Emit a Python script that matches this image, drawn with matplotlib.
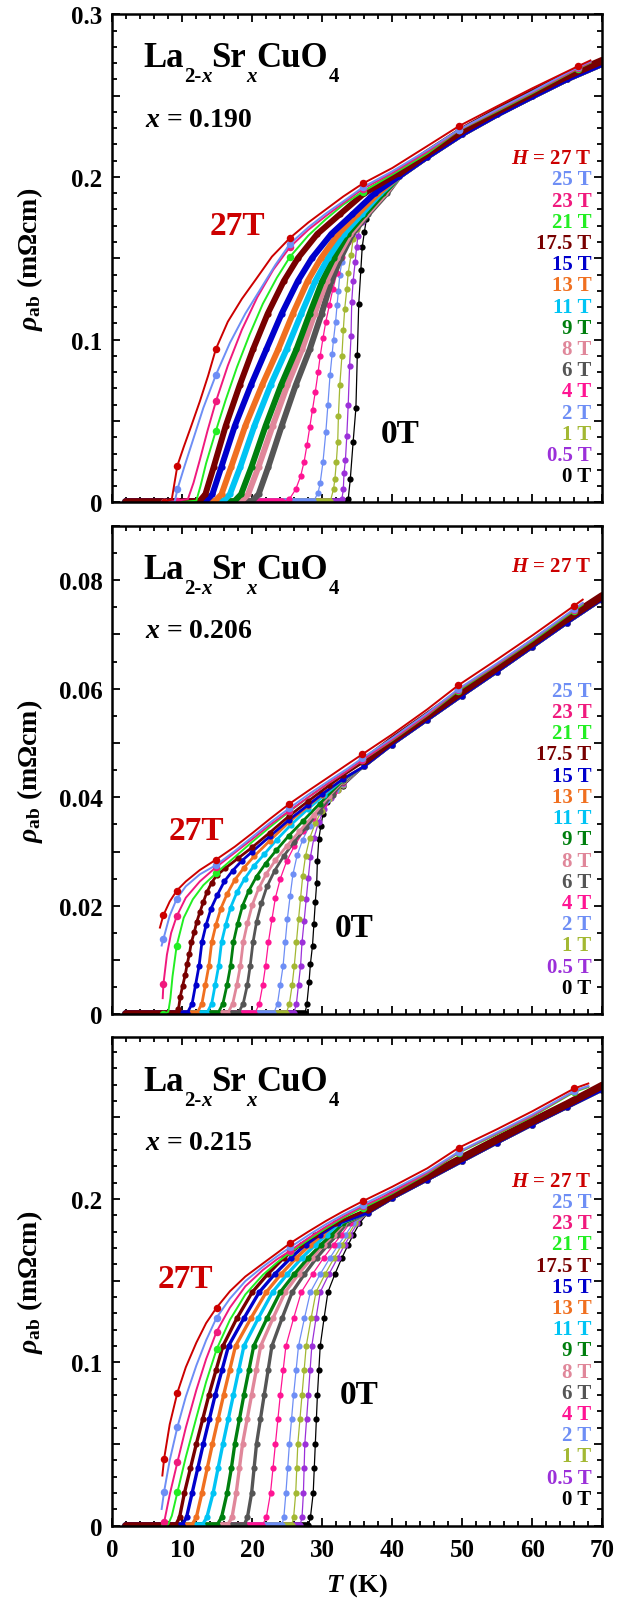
import matplotlib
matplotlib.use("Agg")
import matplotlib.pyplot as plt
import matplotlib.transforms as mtransforms
from matplotlib.ticker import MultipleLocator, FuncFormatter

plt.rcParams['font.family'] = ['Liberation Serif', 'DejaVu Serif']
plt.rcParams['font.weight'] = 'bold'
plt.rcParams['mathtext.fontset'] = 'custom'
plt.rcParams['mathtext.rm'] = 'Liberation Serif:bold'
plt.rcParams['mathtext.it'] = 'Liberation Serif:italic:bold'
plt.rcParams['mathtext.bf'] = 'Liberation Serif:bold'

# field values (T) and colours, low -> high
fields = ['0', '0.5', '1', '2', '4', '6', '8', '9', '11', '13', '15', '17.5', '21', '23', '25', '27']
colors = ['#000000', '#9b30d9', '#a3b833', '#6e8ef5', '#ff1493', '#555555', '#e0879a', '#007f0e',
          '#00c4f4', '#f07020', '#0000cc', '#780000', '#22ee22', '#f0197d', '#6e8ef5', '#cc0000']

# ---------------- x = 0.190 ----------------
t190 = [
    [2, 33.2, 33.7, 34.0, 34.4, 34.8, 35.0, 35.2, 35.5, 35.7, 36.0, 36.3, 37.3, 38.5],
    [2, 32.6, 32.8, 33.0, 33.1, 33.3, 33.5, 33.7, 33.9, 34.1, 34.2, 34.4, 34.7, 34.9, 35.1, 35.6, 36.5, 38.0],
    [2, 31.1, 31.6, 31.8, 32.0, 32.2, 32.3, 32.5, 32.8, 33.0, 33.2, 33.5, 33.7, 34.1, 34.4, 34.9, 35.6, 36.7, 38.2],
    [2, 28.7, 29.4, 29.7, 30.1, 30.5, 30.8, 31.1, 31.4, 31.6, 31.9, 32.1, 32.3, 32.5, 32.8, 33.1, 33.5, 34.0, 34.7, 35.6, 36.8, 38.4],
    [2, 24.2, 25.3, 26.2, 26.9, 27.4, 27.8, 28.2, 28.6, 29.0, 29.4, 29.7, 30.1, 30.5, 31.0, 31.5, 32.1, 32.8, 33.6, 34.6, 35.8, 37.3, 39.0],
    [2, 19.8, 20.9, 22.3, 24.2, 26.2, 28.2, 29.9, 31.3, 32.6, 34.3, 36.5, 39.2],
    [2, 18.3, 19.4, 20.9, 22.9, 25.0, 27.1, 28.9, 30.6, 32.1, 34.0, 36.3, 39.0],
    [2, 17.3, 18.4, 19.9, 21.9, 24.1, 26.3, 28.2, 30.0, 31.6, 33.6, 36.0, 38.7],
    [2, 15.7, 16.8, 18.3, 20.3, 22.6, 24.9, 27.0, 29.0, 30.8, 33.1, 35.6, 38.3],
    [2, 14.5, 15.6, 17.0, 19.0, 21.4, 23.7, 25.8, 27.9, 29.8, 32.3, 35.0, 38.0],
    [2, 13.2, 14.3, 15.6, 17.5, 19.8, 22.0, 24.2, 26.5, 28.5, 31.3, 34.3, 37.5],
    [2, 12.3, 13.3, 14.5, 16.2, 18.2, 20.1, 22.2, 24.5, 26.5, 29.3, 32.5, 36.0],
]
r190 = [
    [0, 0, 0.002, 0.0144, 0.037, 0.058, 0.0906, 0.1216, 0.1425, 0.1568, 0.166, 0.174, 0.184, 0.192],
    [0, 0, 0.002, 0.008, 0.018, 0.026, 0.041, 0.06, 0.084, 0.102, 0.123, 0.136, 0.148, 0.157, 0.164, 0.172, 0.181, 0.19],
    [0, 0, 0.008, 0.0144, 0.0246, 0.037, 0.053, 0.072, 0.09, 0.106, 0.119, 0.131, 0.141, 0.152, 0.162, 0.168, 0.175, 0.183, 0.19],
    [0, 0, 0.006, 0.012, 0.025, 0.043, 0.06, 0.078, 0.091, 0.1, 0.111, 0.121, 0.13, 0.14, 0.148, 0.157, 0.166, 0.172, 0.178, 0.183, 0.188, 0.193],
    [0, 0, 0.002, 0.008, 0.016, 0.025, 0.035, 0.046, 0.057, 0.068, 0.08, 0.09, 0.101, 0.111, 0.121, 0.131, 0.141, 0.151, 0.16, 0.168, 0.176, 0.184, 0.191],
    [0, 0, 0.005, 0.022, 0.047, 0.072, 0.094, 0.116, 0.136, 0.15, 0.165, 0.177, 0.19],
    [0, 0, 0.005, 0.022, 0.047, 0.072, 0.094, 0.116, 0.136, 0.15, 0.165, 0.177, 0.19],
    [0, 0, 0.005, 0.022, 0.047, 0.072, 0.094, 0.116, 0.136, 0.15, 0.165, 0.177, 0.19],
    [0, 0, 0.005, 0.022, 0.047, 0.072, 0.094, 0.116, 0.136, 0.15, 0.165, 0.177, 0.19],
    [0, 0, 0.005, 0.022, 0.047, 0.072, 0.094, 0.116, 0.136, 0.15, 0.165, 0.177, 0.19],
    [0, 0, 0.005, 0.022, 0.047, 0.072, 0.094, 0.116, 0.136, 0.15, 0.165, 0.177, 0.19],
    [0, 0, 0.005, 0.022, 0.047, 0.072, 0.094, 0.116, 0.136, 0.15, 0.165, 0.177, 0.19],
]
tn190 = [41, 45, 50, 55, 60, 65, 70]
rn190 = [0.2005, 0.2125, 0.2265, 0.2385, 0.2495, 0.2602, 0.2695]
rm190 = [0.2025, 0.2145, 0.2285, 0.2405, 0.2515, 0.2622, 0.2715]
# 21, 23, 25, 27 T
th190 = [
    [7.4, 9.3, 12.0, 12.6, 13.4, 14.8, 16.2, 17.8, 19.6, 21.5, 23.5, 25.4, 28, 30.5, 33, 35.8],
    [7.4, 9.3, 10.8, 11.6, 12.5, 13.6, 14.8, 16.5, 18.5, 20.7, 23, 25.4, 28, 30.5, 33, 35.8],
    [7.4, 8.9, 9.3, 10.3, 11.5, 13.0, 14.8, 16.8, 19.0, 21.3, 23.3, 25.4, 28, 30.5, 33, 35.8],
    [7.4, 8.5, 9.3, 10.2, 11.2, 12.5, 13.7, 14.8, 16.5, 18.5, 20.5, 22.8, 25.4, 28, 30.5, 33, 35.8],
]
rh190 = [
    [0, 0, 0.001, 0.01, 0.024, 0.044, 0.063, 0.083, 0.103, 0.122, 0.138, 0.151, 0.164, 0.174, 0.183, 0.191],
    [0, 0.001, 0.002, 0.012, 0.026, 0.044, 0.062, 0.084, 0.106, 0.126, 0.143, 0.157, 0.1675, 0.176, 0.184, 0.1927],
    [0, 0, 0.008, 0.022, 0.038, 0.058, 0.0783, 0.098, 0.116, 0.132, 0.146, 0.159, 0.169, 0.1775, 0.185, 0.1937],
    [0, 0.002, 0.0226, 0.034, 0.046, 0.062, 0.078, 0.0943, 0.111, 0.125, 0.137, 0.151, 0.1626, 0.172, 0.18, 0.188, 0.196],
]
tnh190 = [40, 45, 49.5, 55, 60, 66.5, 68.3]
rnh190 = [
    [0.2015, 0.2145, 0.2286, 0.2405, 0.2515, 0.2665, 0.2702],
    [0.2025, 0.2155, 0.2288, 0.241, 0.252, 0.2668, 0.2705],
    [0.2035, 0.2165, 0.229, 0.2415, 0.2525, 0.2675, 0.271],
    [0.2055, 0.219, 0.2312, 0.2435, 0.2545, 0.268, 0.2716],
]
tmk190 = [7.4, 9.3, 14.8, 25.4, 35.8, 49.5, 66.5]
rmk190 = [
    [0, 0, 0.044, 0.151, 0.191, 0.2286, 0.2665],
    [0, 0.001, 0.062, 0.157, 0.1927, 0.2288, 0.2668],
    [0, 0.008, 0.0783, 0.159, 0.1937, 0.229, 0.2675],
    [0, 0.0226, 0.0943, 0.1626, 0.196, 0.2312, 0.268],
]

# ---------------- x = 0.206 ----------------
t206 = [
    [2, 27.5, 27.8, 28.1, 28.3, 28.6, 28.8, 29.0, 29.2, 29.3, 29.5, 29.8, 30.1, 30.6, 31.5, 33],
    [2, 25.9, 26.3, 26.6, 26.9, 27.1, 27.4, 27.7, 28.0, 28.3, 28.8, 29.5, 30.3, 31.3, 32.3, 33],
    [2, 24.8, 25.3, 25.7, 26.0, 26.3, 26.6, 26.9, 27.2, 27.6, 28.2, 29.0, 29.9, 31.0, 32.2, 33],
    [2, 23.0, 23.6, 24.0, 24.4, 24.7, 25.0, 25.4, 25.8, 26.4, 27.2, 28.2, 29.4, 30.7, 32.0, 33],
    [2, 20.3, 21.0, 21.5, 21.9, 22.3, 22.8, 23.3, 24.0, 24.9, 26.0, 27.3, 28.7, 30.2, 31.7, 33],
    [2, 17.9, 18.7, 19.3, 19.7, 20.1, 20.6, 21.3, 22.1, 23.2, 24.5, 26.0, 27.7, 29.6, 31.5, 33],
    [2, 16.4, 17.2, 17.8, 18.3, 18.7, 19.3, 20.0, 20.9, 22.0, 23.3, 24.9, 26.7, 28.8, 31.0, 33],
    [2, 15.0, 15.8, 16.4, 16.9, 17.3, 17.9, 18.6, 19.5, 20.6, 21.9, 23.4, 25.2, 27.3, 29.6, 33],
    [2, 13.4, 14.2, 14.7, 15.2, 15.6, 16.2, 16.9, 17.8, 18.9, 20.2, 21.7, 23.5, 25.5, 28.0, 30.3, 33],
    [2, 12.0, 12.8, 13.3, 13.8, 14.2, 14.8, 15.5, 16.4, 17.5, 18.8, 20.3, 22.5, 25.3, 28.0, 30.0, 33],
    [2, 10.6, 11.4, 11.9, 12.4, 12.8, 13.4, 14.1, 15.0, 16.0, 17.2, 18.5, 20.0, 22.5, 25.3, 28.0, 30.0, 33],
    [2, 9.2, 9.45, 9.7, 10.05, 10.4, 10.7, 11.0, 11.3, 11.7, 12.05, 12.5, 13.0, 13.5, 14.2, 14.9, 16.1, 18.0, 20.0, 22.5, 25.3, 28.0, 31.0, 33],
]
r206 = [
    [0, 0, 0.002, 0.0059, 0.0093, 0.0127, 0.0167, 0.0207, 0.0243, 0.0283, 0.0323, 0.0348, 0.0369, 0.0391, 0.0408, 0.0421],
    [0, 0, 0.002, 0.0055, 0.009, 0.0133, 0.0172, 0.0212, 0.0252, 0.029, 0.0325, 0.0355, 0.0378, 0.0398, 0.0413, 0.0422],
    [0, 0, 0.002, 0.0055, 0.009, 0.0133, 0.0175, 0.0215, 0.0255, 0.0292, 0.0325, 0.0352, 0.0375, 0.0396, 0.0413, 0.0423],
    [0, 0, 0.002, 0.0055, 0.009, 0.0133, 0.0175, 0.0218, 0.0258, 0.0293, 0.0322, 0.0348, 0.0372, 0.0395, 0.0413, 0.0425],
    [0, 0, 0.002, 0.0055, 0.009, 0.0133, 0.0175, 0.0215, 0.025, 0.0282, 0.031, 0.0337, 0.0362, 0.0388, 0.041, 0.0427],
    [0, 0, 0.002, 0.0055, 0.009, 0.0133, 0.017, 0.0205, 0.0236, 0.0265, 0.0292, 0.0318, 0.0345, 0.0375, 0.0405, 0.0428],
    [0, 0, 0.002, 0.0055, 0.009, 0.0133, 0.0168, 0.0202, 0.0232, 0.0259, 0.0284, 0.031, 0.0337, 0.0368, 0.0403, 0.043],
    [0, 0, 0.002, 0.0055, 0.009, 0.0133, 0.0167, 0.02, 0.0228, 0.0254, 0.0278, 0.0302, 0.0329, 0.0357, 0.0388, 0.0432],
    [0, 0, 0.002, 0.0055, 0.009, 0.0133, 0.0165, 0.0197, 0.0225, 0.025, 0.0273, 0.0295, 0.0322, 0.0349, 0.0379, 0.0404, 0.0433],
    [0, 0, 0.002, 0.0055, 0.009, 0.0133, 0.0165, 0.0195, 0.0222, 0.0248, 0.027, 0.0292, 0.032, 0.0355, 0.0384, 0.0405, 0.0434],
    [0, 0, 0.002, 0.0055, 0.009, 0.0133, 0.0165, 0.0195, 0.022, 0.0245, 0.0265, 0.0283, 0.03, 0.0328, 0.0359, 0.0386, 0.0406, 0.0434],
    [0, 0, 0.001, 0.0032, 0.0053, 0.0072, 0.0093, 0.0111, 0.0133, 0.0151, 0.017, 0.0188, 0.0207, 0.0225, 0.0243, 0.0256, 0.0269, 0.0288, 0.0308, 0.0335, 0.0366, 0.0393, 0.0422, 0.0441],
]
tn206 = [36, 40, 45, 50, 55, 60, 65, 70]
rn206 = [0.0457, 0.0497, 0.0542, 0.0587, 0.0631, 0.0676, 0.0721, 0.0764]
rm206 = [0.0466, 0.0505, 0.055, 0.0595, 0.0639, 0.0684, 0.0729, 0.0771]
th206 = [
    [7.3, 8.0, 8.3, 8.6, 9.2, 10.2, 11.5, 13.0, 14.8, 17.5, 20.0, 22.5, 25.3, 28.0, 31.0, 33.5, 35.7],
    [7.2, 7.3, 7.8, 8.4, 9.2, 10.5, 12.5, 14.8, 17.5, 20.0, 22.5, 25.3, 28.0, 31.0, 33.5, 35.7],
    [7.05, 7.3, 8.2, 9.2, 10.5, 12.5, 14.8, 17.5, 20.0, 22.5, 25.3, 28.0, 31.0, 33.5, 35.7],
    [6.8, 7.3, 8.2, 9.2, 10.5, 12.5, 14.8, 17.5, 20.0, 22.5, 25.3, 28.0, 31.0, 33.5, 35.7],
]
rh206 = [
    [0, 0.0005, 0.003, 0.007, 0.0127, 0.0178, 0.0212, 0.0238, 0.026, 0.029, 0.0318, 0.0345, 0.0374, 0.04, 0.0427, 0.0448, 0.0468],
    [0.003, 0.0056, 0.011, 0.015, 0.0181, 0.0215, 0.0245, 0.0271, 0.0298, 0.0323, 0.0349, 0.0375, 0.04, 0.0427, 0.0448, 0.0468],
    [0.0127, 0.0139, 0.0182, 0.0213, 0.0236, 0.0258, 0.0275, 0.0301, 0.0327, 0.0353, 0.038, 0.0405, 0.0431, 0.0452, 0.0472],
    [0.016, 0.0183, 0.0208, 0.0228, 0.0245, 0.0266, 0.0285, 0.0309, 0.0334, 0.036, 0.0388, 0.0412, 0.0438, 0.046, 0.0479],
]
tnh206 = [40, 45, 49.4, 55, 60, 65.9, 67.2]
rnh206 = [
    [0.0505, 0.0551, 0.0596, 0.0644, 0.0688, 0.0743, 0.0755],
    [0.0506, 0.0552, 0.0598, 0.0645, 0.069, 0.0745, 0.0757],
    [0.0509, 0.0555, 0.0599, 0.0647, 0.0691, 0.0746, 0.0758],
    [0.0516, 0.0562, 0.0606, 0.0654, 0.0698, 0.0752, 0.0764],
]
tmk206 = [7.3, 9.2, 14.8, 25.3, 35.7, 49.4, 65.9]
rmk206 = [
    [0, 0.0127, 0.026, 0.0374, 0.0468, 0.0596, 0.0743],
    [0.0056, 0.0181, 0.0271, 0.0375, 0.0468, 0.0598, 0.0745],
    [0.0139, 0.0213, 0.0275, 0.038, 0.0472, 0.0599, 0.0746],
    [0.0183, 0.0228, 0.0285, 0.0388, 0.0479, 0.0606, 0.0752],
]

# ---------------- x = 0.215 ----------------
r215_lv = [0, 0, 0.005, 0.02, 0.035, 0.05, 0.065, 0.08, 0.095, 0.11, 0.127, 0.143, 0.154, 0.164, 0.172, 0.178, 0.185]
t215 = [
    [2, 28.0, 28.3, 28.7, 28.85, 29.0, 29.15, 29.3, 29.5, 29.7, 30.25, 30.8, 31.8, 32.8, 33.7, 34.4, 35.3],
    [2, 26.8, 27.1, 27.3, 27.4, 27.5, 27.75, 28.0, 28.25, 28.5, 29.1, 29.7, 30.95, 32.2, 33.2, 34.0, 35.0],
    [2, 25.6, 25.9, 26.2, 26.35, 26.5, 26.8, 27.1, 27.4, 27.7, 28.4, 29.1, 30.4, 31.7, 32.8, 33.7, 34.7],
    [2, 24.2, 24.5, 24.8, 25.05, 25.3, 25.6, 25.9, 26.25, 26.6, 27.45, 28.3, 29.7, 31.1, 32.3, 33.3, 34.4],
    [2, 21.4, 22.0, 22.6, 22.95, 23.3, 23.65, 24.0, 24.4, 24.8, 25.9, 27.0, 28.6, 30.2, 31.6, 32.7, 33.9],
    [2, 18.8, 19.3, 19.9, 20.25, 20.6, 21.15, 21.7, 22.25, 22.8, 24.25, 25.7, 27.45, 29.2, 30.8, 32.1, 33.5],
    [2, 16.4, 17.1, 17.7, 18.15, 18.6, 19.25, 19.9, 20.55, 21.2, 22.95, 24.7, 26.6, 28.5, 30.2, 31.6, 33.1],
    [2, 14.9, 15.6, 16.4, 17.0, 17.5, 18.15, 18.8, 19.5, 20.2, 22.1, 24.0, 26.0, 28.0, 29.8, 31.3, 32.9],
    [2, 12.8, 13.5, 14.4, 15.1, 15.8, 16.55, 17.3, 18.05, 18.8, 20.85, 22.9, 25.0, 27.1, 29.0, 30.6, 32.4],
    [2, 11.3, 12.0, 12.8, 13.55, 14.3, 15.1, 15.9, 16.75, 17.6, 19.8, 22.0, 24.1, 26.3, 28.3, 30.0, 32.0],
    [2, 9.9, 10.6, 11.4, 12.2, 13.0, 13.85, 14.7, 15.65, 16.6, 18.8, 21.0, 23.2, 25.5, 27.6, 29.6, 32.2],
    [2, 9.0, 9.6, 10.3, 11.15, 12.0, 12.9, 13.8, 14.8, 15.8, 17.8, 20.0, 22.2, 24.5, 26.9, 29.0, 31.8],
]
tn215 = [36.5, 40, 45, 50, 55, 60, 65, 70]
rn215 = [0.1915, 0.2005, 0.2118, 0.2232, 0.2345, 0.2455, 0.2562, 0.2668]
rm215 = [0.1935, 0.2025, 0.2138, 0.2252, 0.2365, 0.2475, 0.2582, 0.2695]
th215 = [
    [7.5, 8.0, 8.5, 9.3, 10.5, 12.0, 13.4, 14.9, 16.8, 19.0, 21.5, 23.5, 25.4, 28.0, 30.5, 33.0, 35.8],
    [7.3, 7.4, 8.2, 9.3, 10.5, 12.0, 13.4, 14.9, 16.8, 19.0, 21.5, 23.5, 25.4, 28.0, 30.5, 33.0, 35.8],
    [7.05, 7.4, 8.2, 9.3, 10.5, 12.0, 13.4, 14.9, 16.8, 19.0, 21.5, 23.5, 25.4, 28.0, 30.5, 33.0, 35.8],
    [7.15, 7.4, 8.2, 9.3, 10.5, 12.0, 13.4, 14.9, 16.8, 19.0, 21.5, 23.5, 25.4, 28.0, 30.5, 33.0, 35.8],
]
rh215 = [
    [0, 0.001, 0.006, 0.0205, 0.042, 0.066, 0.088, 0.108, 0.126, 0.1415, 0.1535, 0.161, 0.1673, 0.175, 0.182, 0.1885, 0.1946],
    [0, 0.002, 0.019, 0.0389, 0.06, 0.083, 0.102, 0.1188, 0.1335, 0.1465, 0.1565, 0.163, 0.1683, 0.176, 0.183, 0.1893, 0.1956],
    [0.0102, 0.0209, 0.04, 0.0604, 0.079, 0.098, 0.1135, 0.1274, 0.139, 0.1497, 0.1585, 0.1648, 0.1704, 0.1778, 0.1845, 0.1905, 0.1966],
    [0.0307, 0.041, 0.062, 0.0815, 0.097, 0.112, 0.124, 0.1335, 0.1435, 0.1525, 0.1605, 0.1668, 0.1729, 0.18, 0.1865, 0.1925, 0.1987],
]
tnh215 = [40, 45, 49.5, 55, 60, 66, 68]
rnh215 = [
    [0.2035, 0.2155, 0.2283, 0.2398, 0.2505, 0.2655, 0.2685],
    [0.204, 0.216, 0.2287, 0.2403, 0.251, 0.266, 0.269],
    [0.2055, 0.2168, 0.229, 0.2408, 0.2517, 0.2662, 0.2692],
    [0.2075, 0.2188, 0.2314, 0.2428, 0.2537, 0.2677, 0.2707],
]
tmk215 = [7.4, 9.3, 14.9, 25.4, 35.8, 49.5, 66]
rmk215 = [
    [0, 0.0205, 0.108, 0.1673, 0.1946, 0.2283, 0.2655],
    [0.002, 0.0389, 0.1188, 0.1683, 0.1956, 0.2287, 0.266],
    [0.0209, 0.0604, 0.1274, 0.1704, 0.1966, 0.229, 0.2662],
    [0.041, 0.0815, 0.1335, 0.1729, 0.1987, 0.2314, 0.2677],
]
r215 = [r215_lv] * 12

legend_txt = [r'$H$ = 27 T', '25 T', '23 T', '21 T', '17.5 T', '15 T', '13 T', '11 T',
              '9 T', '8 T', '6 T', '4 T', '2 T', '1 T', '0.5 T', '0 T']


def draw_panel(ax, t_lf, r_lf, tn, rn, rm, t_hf, r_hf, tnh, rnh, tmk, rmk, lw_dense):
    for i in range(12):
        c = colors[i]
        lw = lw_dense if i >= 5 else 0.9
        R = r_lf[i] + (rm if i == 11 else rn)
        ax.plot(t_lf[i] + tn, R, '-', color=c, lw=lw, marker='o', ms=4.5, mew=0)
        # zero-resistance plateau looks like a thick band of points
        ax.plot(t_lf[i][:2], r_lf[i][:2], '-', color=c, lw=5.5, solid_capstyle='round')
    ax.plot(tn, rm, '-', color=colors[11], lw=5.5, solid_capstyle='round')
    for j in range(4):
        c = colors[12 + j]
        ax.plot(t_hf[j] + tnh, r_hf[j] + rnh[j], '-', color=c, lw=1.4)
        ax.plot(tmk, rmk[j], 'o', color=c, ms=5.4, mew=0)


def formula(ax, x, y):
    fig = ax.figure
    rend = fig.canvas.get_renderer()
    parts = [('La', 25, 0, 'normal'), ('2-', 15, -15, 'normal'), ('x', 15, -15, 'italic'),
             ('Sr', 25, 0, 'normal'), ('x', 15, -15, 'italic'), ('CuO', 25, 0, 'normal'),
             ('4', 15, -15, 'normal')]
    dx = 0
    for s, size, dy, style in parts:
        tr = mtransforms.offset_copy(ax.transAxes, fig=fig, x=dx, y=dy, units='dots')
        t = ax.text(x, y, s, transform=tr, fontsize=size, fontstyle=style,
                    fontweight='bold', va='baseline', ha='left')
        dx += t.get_window_extent(renderer=rend).width


def fmt01(v, pos):
    if abs(v) < 1e-9:
        return '0'
    if abs(v * 10 - round(v * 10)) < 1e-6:
        return '%.1f' % v
    return ''


def fmt002(v, pos):
    if abs(v) < 1e-9:
        return '0'
    if abs(v * 50 - round(v * 50)) < 1e-6:
        return '%.2f' % v
    return ''


fig = plt.figure(figsize=(6.25, 16.06), dpi=100)
ax1 = fig.add_axes([0.1797, 0.6866, 0.784, 0.3039])
ax2 = fig.add_axes([0.1797, 0.3677, 0.784, 0.3043])
ax3 = fig.add_axes([0.1797, 0.0494, 0.784, 0.3041])

draw_panel(ax1, t190, r190, tn190, rn190, rm190, th190, rh190, tnh190, rnh190, tmk190, rmk190, 4.3)
draw_panel(ax2, t206, r206, tn206, rn206, rm206, th206, rh206, tnh206, rnh206, tmk206, rmk206, 2.0)
draw_panel(ax3, t215, r215, tn215, rn215, rm215, th215, rh215, tnh215, rnh215, tmk215, rmk215, 2.4)

ax1.set_ylim(0, 0.3)
ax2.set_ylim(0, 0.09)
ax3.set_ylim(0, 0.299)

for ax, name in [(ax1, '0.190'), (ax2, '0.206'), (ax3, '0.215')]:
    ax.set_xlim(0, 70)
    ax.xaxis.set_major_locator(MultipleLocator(10))
    ax.xaxis.set_minor_locator(MultipleLocator(2))
    if ax is ax2:
        ax.yaxis.set_major_locator(MultipleLocator(0.01))
        ax.yaxis.set_minor_locator(MultipleLocator(0.005))
        ax.yaxis.set_major_formatter(FuncFormatter(fmt002))
    else:
        ax.yaxis.set_major_locator(MultipleLocator(0.05))
        ax.yaxis.set_minor_locator(MultipleLocator(0.01))
        ax.yaxis.set_major_formatter(FuncFormatter(fmt01))
    ax.tick_params(which='both', direction='in', top=True, right=True, width=1.3, labelsize=18)
    ax.tick_params(which='major', length=6)
    ax.tick_params(which='minor', length=3.3)
    ax.tick_params(axis='y', pad=7)
    ax.tick_params(axis='x', pad=9, labelbottom=(ax is ax3))
    for sp in ax.spines.values():
        sp.set_linewidth(1.8)
    formula(ax, 0.063, 0.893)
    ax.text(0.067, 0.772, r'$x$ = ' + name, transform=ax.transAxes, fontsize=20,
            fontweight='bold', va='baseline')
    ax.text(-0.168, 0.5, r'$\rho_{\mathrm{ab}}$ (mΩcm)', transform=ax.transAxes,
            rotation=90, fontsize=20, ha='center', va='center')

# field labels on the right: position of the "H = 27 T" line and of the "25 T" line
step = 21.2 / 488.0
legend_y = [(ax1, 0.705, 0.705 - step), (ax2, 0.917, 0.6626), (ax3, 0.7064, 0.7064 - step)]
for ax, y_top, y_next in legend_y:
    for k, s in enumerate(legend_txt):
        y = y_top if k == 0 else y_next - (k - 1) * step
        ax.text(0.978, y, s, transform=ax.transAxes, color=colors[15 - k], fontsize=15,
                fontweight='bold', ha='right', va='center')

# 27T / 0T annotations
for ax, p27, p0 in [(ax1, (13.96, 0.165), (38.4, 0.0369)),
                    (ax2, (8.0, 0.0323), (31.8, 0.0145)),
                    (ax3, (6.43, 0.1464), (32.5, 0.0748))]:
    ax.text(p27[0], p27[1], '27T', color='#cc0000', fontsize=24, fontweight='bold', va='baseline')
    ax.text(p0[0], p0[1], '0T', color='black', fontsize=24, fontweight='bold', va='baseline')

fig.text(0.571, 0.0125, r'$T$ (K)', fontsize=19, ha='center', va='center')

fig.savefig('out.png', dpi=100)
